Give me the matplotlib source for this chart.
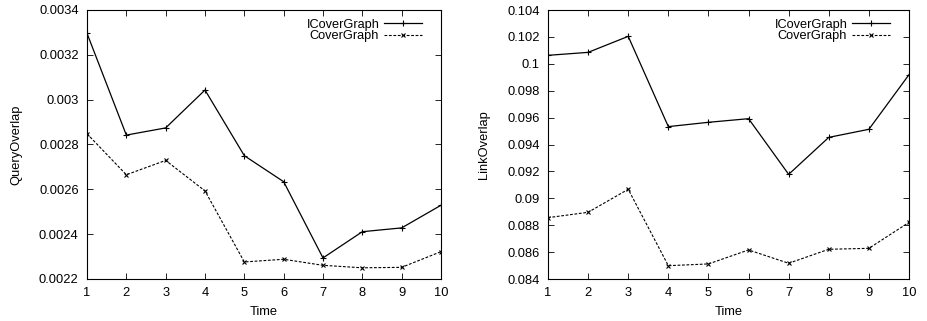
import matplotlib
matplotlib.use("Agg")
import matplotlib.pyplot as plt

times = [1, 2, 3, 4, 5, 6, 7, 8, 9, 10]
query_icover = [0.003296, 0.002842, 0.002874, 0.003043, 0.002750, 0.002634, 0.002294, 0.002411, 0.002428, 0.002529]
query_cover = [0.002848, 0.002665, 0.002729, 0.002593, 0.002276, 0.002288, 0.002261, 0.002250, 0.002252, 0.002322]
link_icover = [0.10063, 0.10085, 0.10204, 0.09533, 0.09565, 0.09592, 0.09178, 0.09453, 0.09513, 0.09919]
link_cover = [0.08856, 0.08896, 0.09067, 0.08499, 0.08512, 0.08616, 0.08517, 0.08621, 0.08628, 0.08821]

q_ticks = [0.0022, 0.0024, 0.0026, 0.0028, 0.003, 0.0032, 0.0034]
q_labels = ["0.0022", "0.0024", "0.0026", "0.0028", "0.003", "0.0032", "0.0034"]
l_ticks = [0.084, 0.086, 0.088, 0.09, 0.092, 0.094, 0.096, 0.098, 0.1, 0.102, 0.104]
l_labels = ["0.084", "0.086", "0.088", "0.09", "0.092", "0.094", "0.096", "0.098", "0.1", "0.102", "0.104"]

plt.rcParams['font.family'] = ['Liberation Sans', 'DejaVu Sans']
plt.rcParams['font.size'] = 9

fig = plt.figure(figsize=(9.27, 3.21), dpi=100)
W, H = 927, 321
ax1 = fig.add_axes([87 / W, 1 - 279 / H, (441 - 87) / W, (279 - 10) / H])
ax2 = fig.add_axes([548 / W, 1 - 279 / H, (909 - 548) / W, (279 - 10) / H])

def style(ax, ticks, labels, ylim, ylabel, ys1, ys2, ax_w):
    ax.plot(times, ys1, color='black', lw=0.9, marker='+', ms=4, mew=0.8, label='ICoverGraph')
    ax.plot(times, ys2, color='black', lw=0.8, ls=(0, (2.5, 1.5)), marker='x', ms=3, mew=0.8, label='CoverGraph')
    ax.set_xlim(1, 10)
    ax.set_ylim(*ylim)
    ax.set_xticks(times)
    ax.set_yticks(ticks)
    ax.set_yticklabels(labels)
    ax.tick_params(direction='in', top=True, right=True, length=4, width=0.6, pad=6, labelsize=9.3)
    for s in ax.spines.values():
        s.set_linewidth(0.8)
    ax.set_xlabel('Time', fontsize=9.3, labelpad=5)
    ax.set_ylabel(ylabel, fontsize=9.3, labelpad=12)
    leg = ax.legend(loc='upper right', bbox_to_anchor=(1 - 10 / ax_w, 1.0), frameon=False,
                    markerfirst=False, fontsize=9.2,
                    handlelength=3.0, labelspacing=-0.05, borderaxespad=0.3, handletextpad=0.35)
    for t in leg.get_texts():
        t.set_ha('right')

style(ax1, q_ticks, q_labels, (0.0022, 0.0034), 'QueryOverlap', query_icover, query_cover, 354)
style(ax2, l_ticks, l_labels, (0.084, 0.104), 'LinkOverlap', link_icover, link_cover, 361)

fig.savefig('out.png', dpi=100)
